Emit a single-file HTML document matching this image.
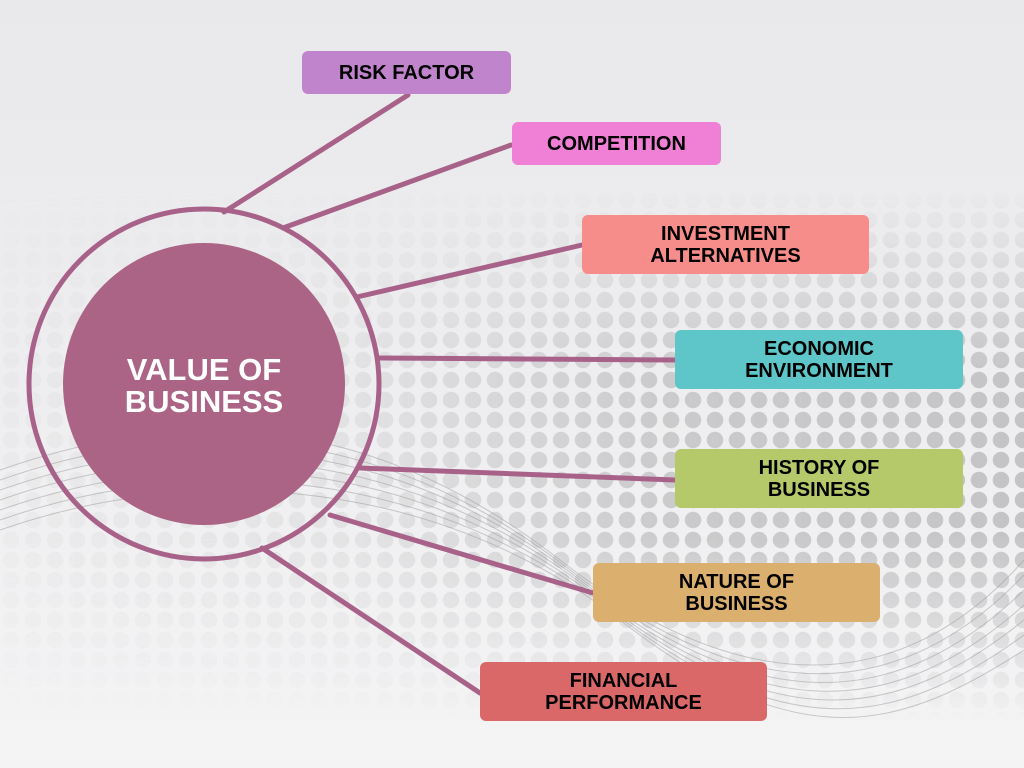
<!DOCTYPE html>
<html><head><meta charset="utf-8"><style>
html,body{margin:0;padding:0}
body{width:1024px;height:768px;position:relative;overflow:hidden;background:linear-gradient(180deg,#e9e9eb 0%,#eeeef0 50%,#f4f4f5 100%);font-family:"Liberation Sans",sans-serif}
.dv{position:absolute;left:0;top:190px;width:1024px;height:530px;
-webkit-mask-image:linear-gradient(180deg,transparent 0,#000 35%,#000 65%,transparent 100%);mask-image:linear-gradient(180deg,transparent 0,#000 35%,#000 65%,transparent 100%)}
.dots{position:absolute;left:0;top:0;width:1024px;height:530px;
background-image:radial-gradient(circle,#c4c4c6 0 8px,transparent 8.5px);background-size:22px 20px;
-webkit-mask-image:linear-gradient(90deg,rgba(0,0,0,.1) 0%,rgba(0,0,0,.3) 35%,rgba(0,0,0,.85) 65%,#000 100%);mask-image:linear-gradient(90deg,rgba(0,0,0,.1) 0%,rgba(0,0,0,.3) 35%,rgba(0,0,0,.85) 65%,#000 100%)}
.box{position:absolute;border-radius:6px;display:flex;align-items:center;justify-content:center;text-align:center;font-weight:bold;font-size:20px;line-height:22px;color:#000}
svg{position:absolute;left:0;top:0}
</style></head><body>
<div class="dv"><div class="dots"></div></div>
<svg width="1024" height="768">
<g fill="none" stroke="#9a9a9c" stroke-width="1" opacity=".5">
<path d="M0 470 C200 400,380 420,560 560 S900 700,1024 560"/>
<path d="M0 480 C200 410,390 430,570 570 S900 705,1024 575"/>
<path d="M0 490 C200 420,400 440,580 580 S900 710,1024 590"/>
<path d="M0 500 C200 430,410 450,590 590 S900 715,1024 605"/>
<path d="M0 510 C200 440,420 460,600 600 S900 720,1024 620"/>
<path d="M0 520 C200 450,430 470,610 610 S900 725,1024 635"/>
<path d="M0 530 C200 460,440 480,620 620 S900 730,1024 650"/>
</g>
<g stroke="#a8628a" stroke-width="5" fill="none" stroke-linecap="round">
<line x1="224" y1="212" x2="408" y2="95"/>
<line x1="283" y1="228" x2="511" y2="145"/>
<line x1="357" y1="297" x2="582" y2="245"/>
<line x1="380" y1="358" x2="675" y2="360"/>
<line x1="360" y1="468" x2="675" y2="480"/>
<line x1="330" y1="515" x2="593" y2="593"/>
<line x1="262" y1="548" x2="480" y2="693"/>
<ellipse cx="204" cy="384" rx="175" ry="175"/>
</g>
<circle cx="204" cy="384" r="141" fill="#ab6485"/>
<text x="204" y="380" text-anchor="middle" font-family="Liberation Sans" font-weight="bold" font-size="31" fill="#fff">VALUE OF</text>
<text x="204" y="412" text-anchor="middle" font-family="Liberation Sans" font-weight="bold" font-size="31" fill="#fff">BUSINESS</text>
</svg>
<div class="box" style="left:302px;top:51px;width:209px;height:43px;background:#c084cc">RISK FACTOR</div>
<div class="box" style="left:512px;top:122px;width:209px;height:43px;background:#f07fd6">COMPETITION</div>
<div class="box" style="left:582px;top:215px;width:287px;height:59px;background:#f78d8a">INVESTMENT<br>ALTERNATIVES</div>
<div class="box" style="left:675px;top:330px;width:288px;height:59px;background:#5ec6c9">ECONOMIC<br>ENVIRONMENT</div>
<div class="box" style="left:675px;top:449px;width:288px;height:59px;background:#b5c96a">HISTORY OF<br>BUSINESS</div>
<div class="box" style="left:593px;top:563px;width:287px;height:59px;background:#dbb06f">NATURE OF<br>BUSINESS</div>
<div class="box" style="left:480px;top:662px;width:287px;height:59px;background:#da6868">FINANCIAL<br>PERFORMANCE</div>
</body></html>
